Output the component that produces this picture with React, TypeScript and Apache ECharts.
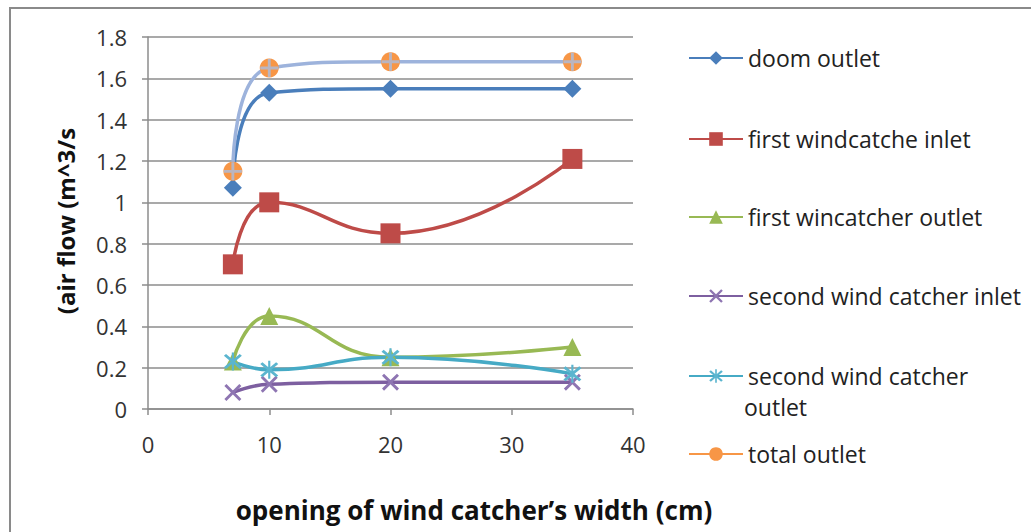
import React, { useEffect, useRef } from "react";
import * as echarts from "echarts";

const widths = [7, 10, 20, 35];
const doomOutlet = [1.07, 1.53, 1.55, 1.55];
const firstInlet = [0.7, 1.0, 0.85, 1.21];
const firstOutlet = [0.23, 0.45, 0.25, 0.3];
const secondInlet = [0.08, 0.12, 0.13, 0.13];
const secondOutlet = [0.23, 0.19, 0.25, 0.17];
const totalOutlet = [1.15, 1.65, 1.68, 1.68];

const seriesNames = [
  "doom outlet",
  "first windcatche inlet",
  "first wincatcher outlet",
  "second wind catcher inlet",
  "second wind catcher outlet",
  "total outlet",
];
const xTitle = "opening of wind catcher\u2019s width (cm)";
const yTitle = "(air flow (m^3/s";

const FONT = "'Open Sans', 'Noto Sans', sans-serif";
const X_PATH =
  "path://M0,1.2 L1.2,0 L5,3.8 L8.8,0 L10,1.2 L6.2,5 L10,8.8 L8.8,10 L5,6.2 L1.2,10 L0,8.8 L3.8,5 Z";
const STAR_PATH =
  "path://M0,1.2 L1.2,0 L5,3.8 L8.8,0 L10,1.2 L6.2,5 L10,8.8 L8.8,10 L5,6.2 L1.2,10 L0,8.8 L3.8,5 Z M4.4,-1 L5.6,-1 L5.6,11 L4.4,11 Z";
const PLUS_PATH = "path://M4.2,0 L5.8,0 L5.8,4.2 L10,4.2 L10,5.8 L5.8,5.8 L5.8,10 L4.2,10 L4.2,5.8 L0,5.8 L0,4.2 L4.2,4.2 Z";

const pairs = (ys: number[]) => widths.map((x, i) => [x, ys[i]]);

export default function App() {
  const ref = useRef<HTMLDivElement>(null);
  useEffect(() => {
    if (!ref.current) return;
    const chart = echarts.init(ref.current, undefined, { renderer: "svg" });
    const legendCenters = [57, 138, 216, 295, 375, 453];
    const lineStyleBase = { width: 3.5 };
    const mk = (
      name: string,
      ys: number[],
      color: string,
      symbol: string,
      size: number,
      extra: any = {}
    ) => ({
      type: "line",
      name,
      data: pairs(ys),
      smooth: 0.5,
      symbol,
      symbolSize: size,
      showSymbol: true,
      lineStyle: { ...lineStyleBase, color },
      itemStyle: { color },
      ...extra,
    });
    const legendFor = (i: number, color?: string) => ({
      orient: "vertical",
      left: 683,
      top: legendCenters[i] - 17,
      itemWidth: 54,
      itemHeight: 17,
      itemGap: 0,
      selectedMode: false,
      textStyle: {
        fontFamily: FONT,
        fontSize: 23,
        color: "#222",
        lineHeight: 26,
      },
      formatter: (n: string) => (n === "second wind catcher outlet" ? "second wind catcher" : n),
      data: [
        color
          ? { name: seriesNames[i], itemStyle: { color }, lineStyle: { color } }
          : { name: seriesNames[i] },
      ],
    });
    chart.setOption({
      animation: false,
      backgroundColor: "#ffffff",
      grid: { left: 148, right: 398, top: 37, bottom: 123, containLabel: false },
      xAxis: {
        type: "value",
        min: 0,
        max: 40,
        interval: 10,
        splitLine: { show: false },
        axisLine: { show: true, lineStyle: { color: "#8c8c8c", width: 1.5 } },
        axisTick: { show: true, inside: false, length: 6, lineStyle: { color: "#8c8c8c", width: 1.5 } },
        axisLabel: { margin: 24, fontFamily: FONT, fontSize: 22, color: "#333" },
      },
      yAxis: {
        type: "value",
        min: 0,
        max: 1.8,
        interval: 0.2,
        splitLine: { show: true, lineStyle: { color: "#8c8c8c", width: 1.5 } },
        axisLine: { show: true, lineStyle: { color: "#8c8c8c", width: 1.5 } },
        axisTick: { show: true, inside: false, length: 6, lineStyle: { color: "#8c8c8c", width: 1.5 } },
        axisLabel: { margin: 21, fontFamily: FONT, fontSize: 22, color: "#333" },
      },
      legend: [
        legendFor(0),
        legendFor(1),
        legendFor(2),
        legendFor(3),
        legendFor(4),
        legendFor(5, "#F79646"),
      ],
      graphic: [
        {
          type: "rect",
          shape: { x: 10, y: 8, width: 1040, height: 540 },
          style: { fill: "none", stroke: "#8a8a8a", lineWidth: 2 },
          silent: true,
        },
        {
          type: "text",
          x: 744,
          y: 407,
          style: {
            text: "outlet",
            fontFamily: FONT,
            fontSize: 23,
            fill: "#222",
            verticalAlign: "middle",
          },
        },
        {
          type: "text",
          x: 474,
          y: 510,
          style: {
            text: xTitle,
            fontFamily: FONT,
            fontSize: 26,
            fontWeight: "bold",
            fill: "#111",
            align: "center",
            verticalAlign: "middle",
          },
        },
        {
          type: "text",
          x: 65,
          y: 221,
          rotation: Math.PI / 2,
          style: {
            text: yTitle,
            fontFamily: FONT,
            fontSize: 24,
            fontWeight: "bold",
            fill: "#111",
            align: "center",
            verticalAlign: "middle",
          },
        },
      ],
      series: [
        mk(seriesNames[0], doomOutlet, "#4A7EBB", "diamond", 18),
        mk(seriesNames[1], firstInlet, "#BE4B48", "rect", 20),
        mk(seriesNames[2], firstOutlet, "#98B954", "triangle", 18),
        mk(seriesNames[3], secondInlet, "#7D5FA0", X_PATH, 17, {
          itemStyle: { color: "#8E75B2" },
        }),
        mk(seriesNames[4], secondOutlet, "#46AAC5", STAR_PATH, 18, {
          itemStyle: { color: "#5BB5CF" },
        }),
        mk(seriesNames[5], totalOutlet, "#9DB3DC", "circle", 19, {
          itemStyle: { color: "#F79646" },
          z: 3,
        }),
        {
          type: "scatter",
          name: "total outlet marker",
          data: pairs(totalOutlet),
          symbol: PLUS_PATH,
          symbolSize: 18,
          itemStyle: { color: "#A9BDE0" },
          silent: true,
          z: 4,
        },
      ],
    });
    return () => chart.dispose();
  }, []);
  return (
    <div
      ref={ref}
      style={{ position: "absolute", left: 0, top: 0, width: 1031, height: 532 }}
    />
  );
}
